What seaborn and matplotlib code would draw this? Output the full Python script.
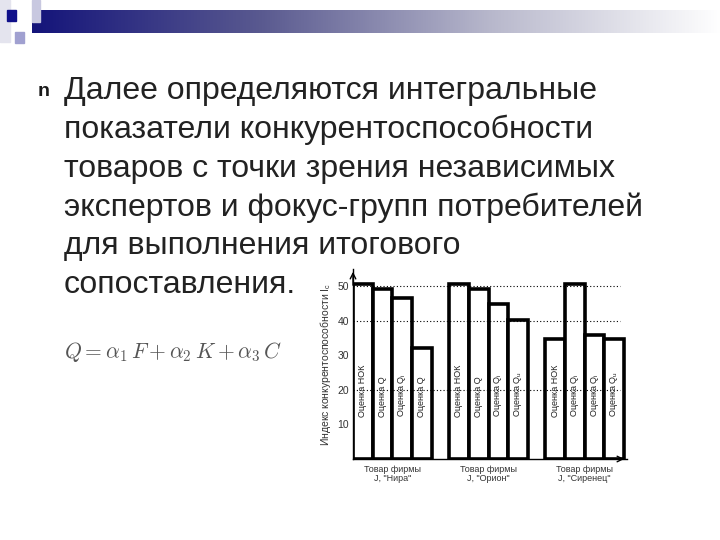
import numpy as np
import pandas as pd
import matplotlib
matplotlib.use('agg')
import matplotlib.pyplot as plt
from matplotlib.patches import Rectangle
import seaborn as sns

# data
firms = ['Товар фирмы\nJ, "Нира"', 'Товар фирмы\nJ, "Орион"', 'Товар фирмы\nJ, "Сиренец"']
estimates = ['НОК', 'Q', 'Qi', 'Qu']
nira = [50.7, 49.1, 46.5, 32.0]
orion = [50.7, 49.1, 45.0, 40.1]
sirena = [34.7, 50.7, 36.0, 34.7]
bar_labels = [
    ['Оценка НОК', 'Оценка Q', 'Оценка Q$_{i}$', 'Оценка Q'],
    ['Оценка НОК', 'Оценка Q', 'Оценка Q$_{i}$', 'Оценка Q$_{u}$'],
    ['Оценка НОК', 'Оценка Q$_{i}$', 'Оценка Q$_{i}$', 'Оценка Q$_{u}$'],
]
yticks = [10, 20, 30, 40, 50]
grid_levels = [20, 40, 50]
slide_lines = [
    'Далее определяются интегральные',
    'показатели конкурентоспособности',
    'товаров с точки зрения независимых',
    'экспертов и фокус-групп потребителей',
    'для выполнения итогового',
    'сопоставления.',
]

sns.set_style('white')
plt.rcParams['font.family'] = ['Liberation Sans', 'DejaVu Sans']
plt.rcParams['mathtext.fontset'] = 'custom'
plt.rcParams['mathtext.rm'] = 'Liberation Sans'
plt.rcParams['mathtext.it'] = 'Liberation Sans'

fig = plt.figure(figsize=(7.2, 5.4), dpi=100)
W, H = 720.0, 540.0

def fx(px):
    return px / W

def fy(py):
    return 1 - py / H

# title bar gradient + decorative squares
bar_ax = fig.add_axes([fx(32), fy(33), fx(690), (33 - 10) / H])
grad = np.linspace(0, 1, 256)[None, :]
cmap = matplotlib.colors.LinearSegmentedColormap.from_list(
    'tb', ['#14147a', '#5a5a90', '#b8b8cc', '#ffffff'])
bar_ax.imshow(grad, aspect='auto', cmap=cmap)
bar_ax.axis('off')
for (x0, y0, w, h, c) in [(0, 0, 10, 42, '#e4e4ee'), (32, 0, 8, 22, '#c8c8e0'),
                          (7, 10, 9, 11, '#10108a'), (15, 32, 9, 11, '#a0a0d0')]:
    fig.patches.append(Rectangle((fx(x0), fy(y0 + h)), w / W, h / H,
                                 transform=fig.transFigure, color=c, zorder=3))

# bullet and body text
fig.text(fx(38), fy(92), 'n', fontsize=14, fontweight='bold', color='#1a1a1a', va='center')
for i, line in enumerate(slide_lines):
    fig.text(fx(64), fy(91 + i * 38.8), line, fontsize=23, color='#222222', va='center')

fig.text(fx(64), fy(352), r'$Q = \alpha_1\,F + \alpha_2\,K + \alpha_3\,C$',
         fontsize=15.5, color='#555555', va='center', math_fontfamily='cm')

# chart
ax = fig.add_axes([fx(353), fy(459), (627 - 353) / W, (459 - 269) / H])
df = pd.DataFrame({
    'firm': np.repeat(firms, len(estimates)),
    'estimate': estimates * len(firms),
    'value': nira + orion + sirena,
})
sns.barplot(data=df, x='firm', y='value', hue='estimate', palette=['white'] * 4,
            edgecolor='black', linewidth=2.6, width=0.82, legend=False, ax=ax,
            saturation=1)

ax.set_xlim(-0.41, 2.44)
ax.set_ylim(0, 55)
for lvl in grid_levels:
    ax.axhline(lvl, xmin=0, xmax=0.975, color='black', ls=(0, (1, 2)), lw=0.8, zorder=5)

for j, cont in enumerate(ax.containers):
    for i, patch in enumerate(cont.patches):
        xc = patch.get_x() + patch.get_width() / 2
        ax.text(xc, 12.3, bar_labels[i][j], rotation=90, ha='center', va='bottom',
                fontsize=6.5, color='#222222', zorder=6)

ax.set_yticks(yticks)
ax.set_yticklabels([str(t) for t in yticks], fontsize=7.5, color='#333333')
ax.tick_params(axis='both', length=0)
ax.tick_params(axis='y', pad=3)
ax.tick_params(axis='x', pad=4)
ax.set_xticks(range(len(firms)))
ax.set_xticklabels(firms, fontsize=6.5, color='#333333', linespacing=1.1)
ax.set_xlabel('')
ax.set_ylabel('Индекс конкурентоспособности I$_c$', fontsize=7.5, color='#333333', labelpad=3)
for side in ['top', 'right']:
    ax.spines[side].set_visible(False)
for side in ['left', 'bottom']:
    ax.spines[side].set_color('black')
    ax.spines[side].set_linewidth(1)
ax.annotate('', xy=(0, 1.0), xytext=(0, 0.9), xycoords='axes fraction',
            arrowprops=dict(arrowstyle='->', lw=1, color='black'))
ax.annotate('', xy=(1.0, 0), xytext=(0.9, 0), xycoords='axes fraction',
            arrowprops=dict(arrowstyle='->', lw=1, color='black'))
ax.patch.set_alpha(0)

fig.savefig('out.png', dpi=100)
